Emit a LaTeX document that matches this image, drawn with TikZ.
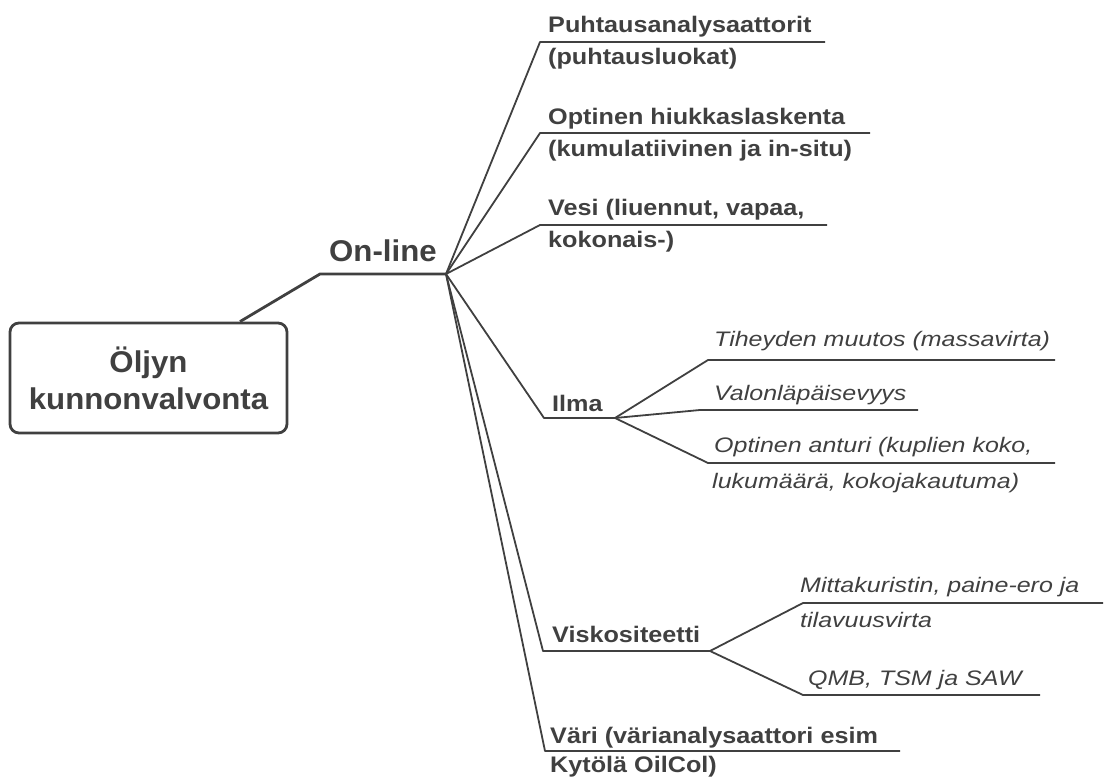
\documentclass[tikz,border=0pt]{standalone}
\usepackage{fontspec}
\setmainfont{Liberation Sans}
\newfontfamily\bigf[FakeStretch=1.04]{Liberation Sans}
\newfontfamily\boldf[FakeStretch=1.12]{Liberation Sans}
\newfontfamily\itf[FakeStretch=1.19]{Liberation Sans}
\definecolor{ink}{gray}{0.25}
\begin{document}
\begin{tikzpicture}[x=1pt,y=-1pt,
  ln/.style={draw=ink, line width=1.8pt, line join=round},
  trunk/.style={draw=ink, line width=2.8pt, line join=round},
  bl/.style={anchor=base west, inner sep=0pt, text=ink, font=\boldf\bfseries\fontsize{22.5}{27}\selectfont},
  il/.style={anchor=base west, inner sep=0pt, text=ink, font=\itf\itshape\fontsize{21}{25}\selectfont},
  big/.style={text=ink, font=\bigf\bfseries\fontsize{30}{37}\selectfont},
]
\useasboundingbox (0,0) rectangle (1108,783);

% root box
\node[draw=ink, line width=2.8pt, rounded corners=9pt, minimum width=277pt,
      minimum height=110pt, align=center, big, inner sep=0pt] (root) at (148.5,378)
      {Öljyn\\kunnonvalvonta};
\path (root.north) ++(91.5,0) coordinate (r0);

% On-line trunk
\coordinate (ob) at (320,274);
\coordinate (H) at (446,274);
\node[big, anchor=base west, inner sep=0pt] (online) at (329,262) {On-line};
\draw[trunk] (r0) -- (ob) -- (H);

% branch 1
\coordinate (e1) at (540,42); \coordinate (f1) at (825,42);
\draw[ln] (H) -- (e1) -- (f1);
\node[bl] (t1a) at (548,33) {Puhtausanalysaattorit};
\node[bl] (t1b) at (548,65) {(puhtausluokat)};

% branch 2
\coordinate (e2) at (540,133); \coordinate (f2) at (870,133);
\draw[ln] (H) -- (e2) -- (f2);
\node[bl] (t2a) at (548,125) {Optinen hiukkaslaskenta};
\node[bl] (t2b) at (548,157) {(kumulatiivinen ja in-situ)};

% branch 3
\coordinate (e3) at (540,225); \coordinate (f3) at (827,225);
\draw[ln] (H) -- (e3) -- (f3);
\node[bl] (t3a) at (548,216) {Vesi (liuennut, vapaa,};
\node[bl] (t3b) at (548,248) {kokonais-)};

% branch 4: Ilma
\coordinate (e4) at (544,418); \coordinate (I) at (615,418);
\draw[ln] (H) -- (e4) -- (I);
\node[bl] (t4) at (552,411) {Ilma};

\coordinate (ea) at (708,360); \coordinate (fa) at (1055,360);
\draw[ln] (I) -- (ea) -- (fa);
\node[il] (ta) at (714,347) {Tiheyden muutos (massavirta)};

\coordinate (eb) at (700,410); \coordinate (fb) at (918,410);
\draw[ln] (I) -- (eb) -- (fb);
\node[il] (tb) at (714,400) {Valonläpäisevyys};

\coordinate (ec) at (708,463); \coordinate (fc) at (1055,463);
\draw[ln] (I) -- (ec) -- (fc);
\node[il] (tc1) at (714,452) {Optinen anturi (kuplien koko,};
\node[il] (tc2) at (712,488) {lukumäärä, kokojakautuma)};

% branch 5: Viskositeetti
\coordinate (e5) at (543,651); \coordinate (V) at (710,651);
\draw[ln] (H) -- (e5) -- (V);
\node[bl] (t5) at (552,642) {Viskositeetti};

\coordinate (ed) at (803,603); \coordinate (fd) at (1103,603);
\draw[ln] (V) -- (ed) -- (fd);
\node[il] (td1) at (800,592) {Mittakuristin, paine-ero ja};
\node[il] (td2) at (800,627) {tilavuusvirta};

\coordinate (ee) at (803,695); \coordinate (fe) at (1040,695);
\draw[ln] (V) -- (ee) -- (fe);
\node[il] (te) at (808,685) {QMB, TSM ja SAW};

% branch 6: Väri
\coordinate (e6) at (545,751); \coordinate (f6) at (900,751);
\draw[ln] (H) -- (e6) -- (f6);
\node[bl] (t6a) at (550,743) {Väri (värianalysaattori esim};
\node[bl] (t6b) at (550,772) {Kytölä OilCol)};
\end{tikzpicture}
\end{document}
